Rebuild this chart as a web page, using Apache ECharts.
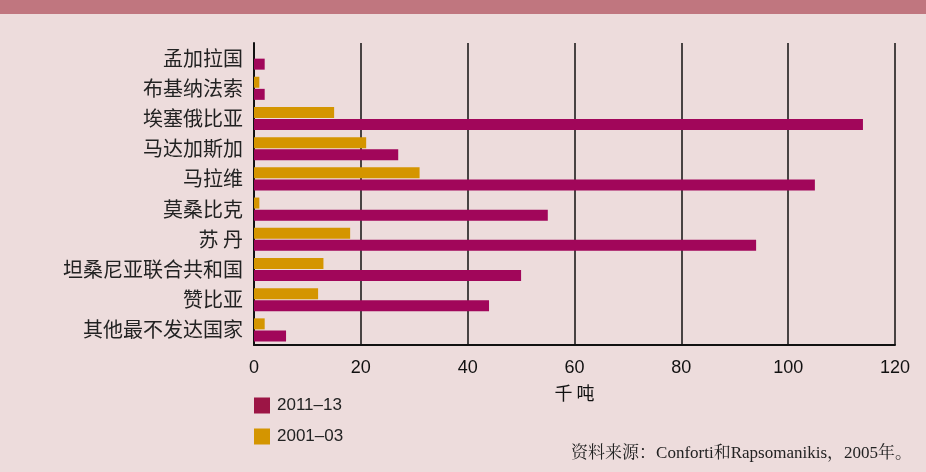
<!DOCTYPE html>
<html><head><meta charset="utf-8">
<script src="https://cdn.jsdelivr.net/npm/echarts@6/dist/echarts.min.js"></script>
<style>html,body{margin:0;padding:0;background:#eddcdc;}#c{width:926px;height:472px;}</style>
</head><body><div id="c"></div>
<script>
const categories = ['孟加拉国','布基纳法索','埃塞俄比亚','马达加斯加','马拉维','莫桑比克','苏 丹','坦桑尼亚联合共和国','赞比亚','其他最不发达国家'];
const s2011 = [2, 2, 114, 27, 105, 55, 94, 50, 44, 6];
const s2001 = [0, 1, 15, 21, 31, 1, 18, 13, 12, 2];
const xTicks = [0, 20, 40, 60, 80, 100, 120];
const chart = echarts.init(document.getElementById('c'));
chart.setOption({
  backgroundColor: '#eddcdc',
  animation: false,
  graphic: [
    {type:'rect', shape:{x:0,y:0,width:926,height:14}, style:{fill:'#c0767f'}},
    {type:'text', right: 14, top: 445, style:{text:'资料来源：Conforti和Rapsomanikis，2005年。', font:'17px "Liberation Serif","Noto Serif CJK SC",serif', fill:'#222'}}
  ],
  grid: {left: 254, right: 31, top: 43, bottom: 127, containLabel: false},
  legend: {
    orient: 'vertical', left: 249, top: 392, itemWidth: 16, itemHeight: 16, itemGap: 14,
    icon: 'rect',
    textStyle: {fontFamily: 'Liberation Sans', fontSize: 17, color: '#222', padding: [0, 0, 0, 2]},
    data: [
      {name: '2011–13', itemStyle: {color: '#9c1545'}},
      {name: '2001–03', itemStyle: {color: '#d49500'}}
    ]
  },
  xAxis: {
    type: 'value', min: 0, max: 120, interval: 20,
    name: '千 吨', nameLocation: 'middle', nameGap: 39,
    nameTextStyle: {fontFamily: 'Noto Sans CJK SC', fontSize: 18, color: '#111'},
    axisLine: {show: true, lineStyle: {color: '#111', width: 2}},
    axisTick: {show: false},
    axisLabel: {margin: 14, fontFamily: 'Liberation Sans', fontSize: 18, color: '#111',
      formatter: v => xTicks.includes(v) ? String(v) : ''},
    splitLine: {show: true, lineStyle: {color: '#111', width: 1.5}}
  },
  yAxis: {
    type: 'category', data: categories, inverse: true,
    axisLine: {show: true, lineStyle: {color: '#111', width: 2}},
    axisTick: {show: false},
    axisLabel: {margin: 11, fontFamily: 'Noto Sans CJK SC', fontSize: 20, color: '#222'}
  },
  series: [
    {name: '2001–03', type: 'bar', data: s2001, barWidth: 11, barGap: '10%', itemStyle: {color: '#d49500'}},
    {name: '2011–13', type: 'bar', data: s2011, barWidth: 11, barGap: '10%', itemStyle: {color: '#a1065a'}}
  ]
});
</script></body></html>
